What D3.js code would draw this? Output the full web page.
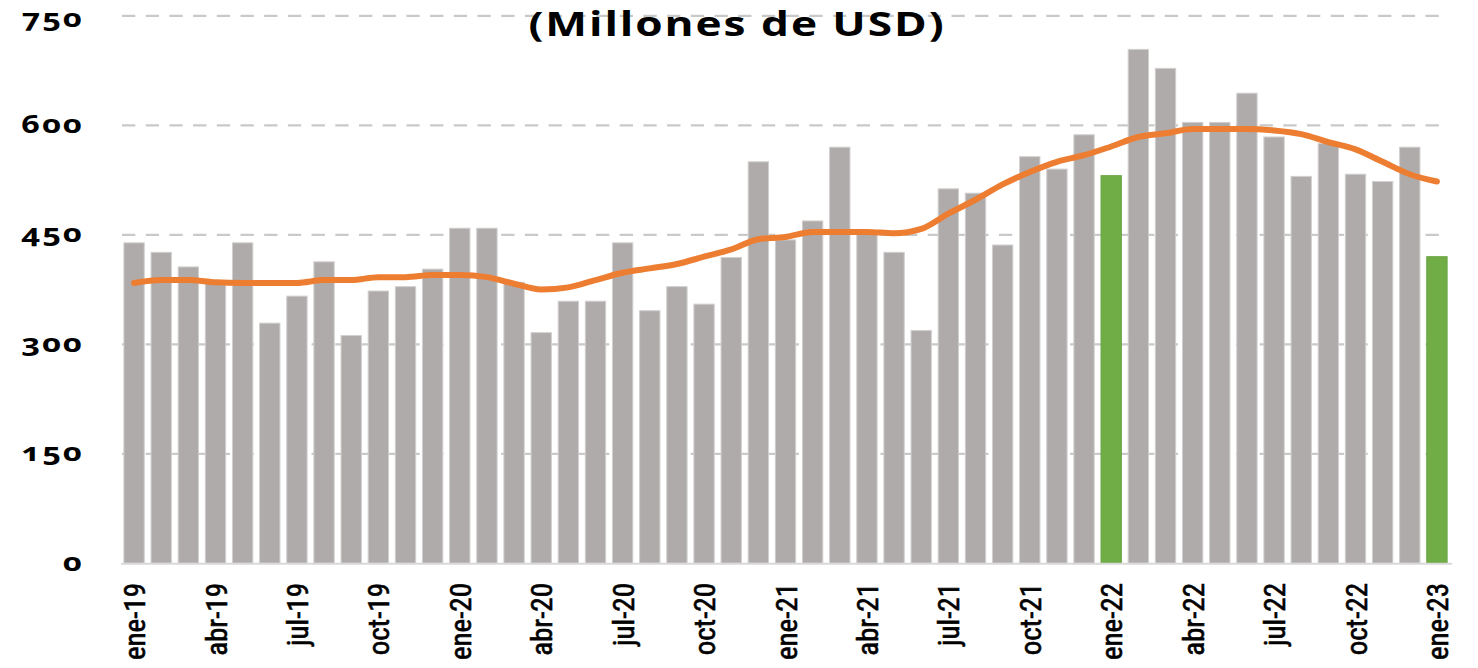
<!doctype html>
<html>
  <head>
    <meta charset="utf-8">
    <script src="https://cdn.jsdelivr.net/npm/d3@7/dist/d3.min.js"></script>
    <style>
      body { margin: 0; background: #fff; }
      svg { display: block; }
      .ylab { font-family: "Noto Sans", sans-serif; font-weight: bold; font-size: 25px;
              font-variant-numeric: oldstyle-nums; letter-spacing: 1.5px; }
      .xlab { font-family: "Liberation Sans Narrow", "Roboto Condensed", "Noto Sans", sans-serif; font-size: 29px;
              stroke: #000; stroke-width: 0.6px; }
      .title { font-family: "Open Sans", sans-serif; font-weight: bold; font-size: 34px; letter-spacing: 1.5px; }
    </style>
  </head>
  <body>
    <svg id="chart" width="1478" height="668"></svg>
    <script>
      const months = ["ene", "feb", "mar", "abr", "may", "jun", "jul", "ago", "sep", "oct", "nov", "dic"];
      const categories = [];
      for (let y = 19; y <= 23; y++) {
        months.forEach(m => { if (categories.length < 49) categories.push(m + "-" + y); });
      }

      // monthly values (millones de USD)
      const values = [
        439, 426, 406, 385, 439, 329, 366, 413, 312, 373, 379, 403,
        459, 459, 385, 316, 359, 359, 439, 346, 379, 355, 419, 550,
        443, 469, 570, 455, 426, 319, 513, 507, 436, 557, 540, 587,
        531, 704, 678, 604, 604, 644, 584, 530, 575, 533, 523, 570,
        420
      ];
      // moving average line
      const trend = [
        384, 388, 388, 385, 384, 384, 384, 388, 388, 392, 392, 395,
        395, 392, 383, 375, 378, 388, 398, 404, 410, 420, 430, 444,
        447, 454, 454, 454, 452, 458, 479, 498, 519, 536, 550, 559,
        571, 584, 589, 595, 595, 595, 593, 588, 577, 567, 550, 533,
        523
      ];
      const highlighted = ["ene-22", "ene-23"];
      const yTicks = [0, 150, 300, 450, 600, 750];
      const title = "(Millones de USD)";

      const svg = d3.select("#chart");

      const x = d3.scaleBand()
        .domain(categories)
        .range([120.5, 1450.5])
        .paddingInner(0.25)
        .paddingOuter(0.125);

      const y = d3.scaleLinear().domain([0, 750]).range([563.3, 15.8]);

      // grid
      svg.append("g")
        .selectAll("line")
        .data(yTicks.filter(t => t > 0))
        .enter()
        .append("line")
        .attr("x1", 122)
        .attr("x2", 1446)
        .attr("y1", d => y(d))
        .attr("y2", d => y(d))
        .style("stroke", "#c9c9c9")
        .style("stroke-width", "2.2px")
        .style("stroke-dasharray", "13.3,10.4");

      // y labels (wide, like the stretched original)
      svg.append("g")
        .selectAll("text")
        .data(yTicks)
        .enter()
        .append("text")
        .attr("class", "ylab")
        .attr("transform", d => "translate(84," + Math.max(y(d) + 7.5, 27) + ") scale(1.3,1)")
        .attr("text-anchor", "end")
        .text(d => d);

      // bars
      svg.append("g")
        .selectAll("rect")
        .data(categories)
        .enter()
        .append("rect")
        .attr("x", d => x(d))
        .attr("width", x.bandwidth())
        .attr("y", (d, i) => y(values[i]))
        .attr("height", (d, i) => y(0) - y(values[i]))
        .style("fill", d => highlighted.includes(d) ? "#70ad47" : "#afabaa")
        .style("stroke", d => highlighted.includes(d) ? "#6aa543" : "#d2d0cf")
        .style("stroke-width", "1px");

      // baseline
      svg.append("line")
        .attr("x1", 121)
        .attr("x2", 1452)
        .attr("y1", y(0) + 0.5)
        .attr("y2", y(0) + 0.5)
        .style("stroke", "#d9d9d9")
        .style("stroke-width", "2px");

      // trend line
      const line = d3.line()
        .x((d, i) => x(categories[i]) + x.bandwidth() / 2)
        .y(d => y(d))
        .curve(d3.curveMonotoneX);

      svg.append("path")
        .datum(trend)
        .attr("d", line)
        .style("fill", "none")
        .style("stroke", "#ed7d31")
        .style("stroke-width", "6px")
        .style("stroke-linecap", "round")
        .style("stroke-linejoin", "round");

      // x labels
      svg.append("g")
        .selectAll("text")
        .data(categories.filter((d, i) => i % 3 === 0))
        .enter()
        .append("text")
        .attr("class", "xlab")
        .attr("transform", d => "translate(" + (x(d) + x.bandwidth() / 2 + 11) + ",583) rotate(-90)")
        .attr("text-anchor", "end")
        .text(d => d);

      // title
      svg.append("text")
        .attr("class", "title")
        .attr("transform", "translate(737,36) scale(1.3,1)")
        .attr("text-anchor", "middle")
        .text(title);
    </script>
  </body>
</html>
